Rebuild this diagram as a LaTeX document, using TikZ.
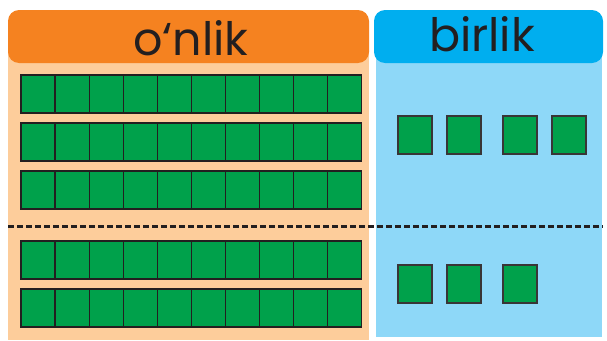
\documentclass[tikz,border=0pt]{standalone}
\usepackage{fontspec}
\newfontfamily\headfont{Poppins}
\usetikzlibrary{positioning}
\definecolor{tens-head}{HTML}{F58220}
\definecolor{tens-fill}{HTML}{FDCD9B}
\definecolor{ones-head}{HTML}{00AEEF}
\definecolor{ones-fill}{HTML}{8ED8F8}
\definecolor{block}{HTML}{00A14B}
\definecolor{ink}{HTML}{231F20}
\tikzset{
  head/.style={
    rounded corners=11pt, minimum height=53pt, inner sep=0pt
  },
  label/.style={
    font=\headfont\fontsize{46}{48}\selectfont, text=ink, anchor=base
  },
  cell/.style={fill=block, draw=ink, line width=1.2pt},
  unit/.style={fill=block, draw=ink!90, line width=1.3pt},
  split/.style={draw=ink, line width=3pt, dash pattern=on 6pt off 3pt}
}

\begin{document}
\begin{tikzpicture}[x=1pt, y=-1pt]
  \useasboundingbox (0,0) rectangle (607,340);

  % ---- Panels --------------------------------------------------------------
  \fill[tens-fill] (8,40) rectangle (369,340);
  \fill[ones-fill] (376,40) rectangle (602,337);
  \node[head, fill=tens-head, minimum width=361pt] (tens) at (188.5,36.5) {};
  \node[head, fill=ones-head, minimum width=229pt] (ones) at (488.5,36.5) {};
  \node[label] (tens-label) at (191,55) {o‘nlik};
  \node[label] (ones-label) at (482,51) {birlik};

  % ---- Tens: rows of ten cells ---------------------------------------------
  \foreach \r in {75,123,171,241,289} {
    \foreach \c in {0,...,9}
      \draw[cell] ({21+34.05*\c},\r) rectangle ++(34.05,38);
  }

  % ---- Dividing line -------------------------------------------------------
  \draw[split] (8,226) -- (603,226);

  % ---- Ones: single cells --------------------------------------------------
  \foreach \x in {398,447,503,552}
    \draw[unit] (\x,116) rectangle ++(34,38);
  \foreach \x in {398,447,503}
    \draw[unit] (\x,265) rectangle ++(34,38);

\end{tikzpicture}
\end{document}
